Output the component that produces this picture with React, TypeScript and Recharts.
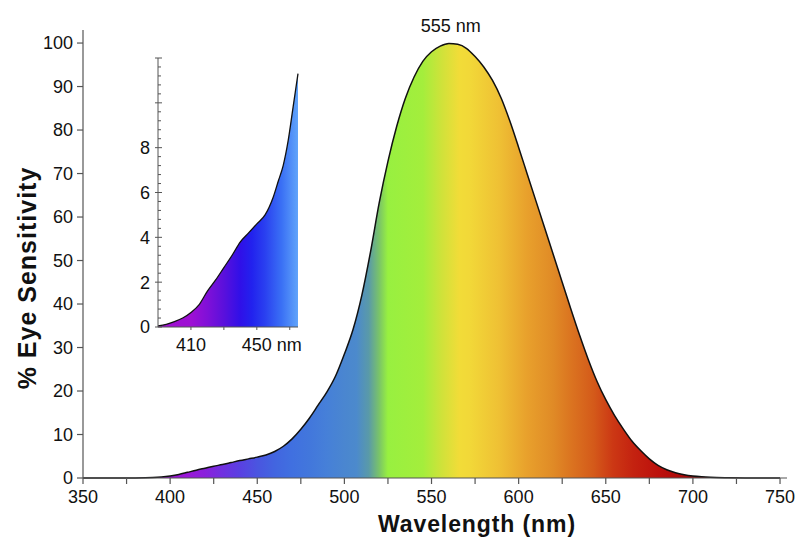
import { Area, AreaChart, Label, ReferenceDot, XAxis, YAxis } from "recharts";

// main curve: wavelength (nm) vs % eye sensitivity
const NM = [
  350, 360, 370, 380, 390, 395, 400, 405, 410, 415, 420, 425, 430, 435, 440,
  445, 450, 455, 460, 465, 470, 475, 480, 485, 490, 495, 500, 505, 510, 515,
  520, 525, 530, 535, 540, 545, 550, 555, 560, 565, 570, 575, 580, 585, 590,
  595, 600, 605, 610, 615, 620, 625, 630, 635, 640, 645, 650, 655, 660, 665,
  670, 675, 680, 685, 690, 695, 700, 705, 710, 720, 730, 740, 750,
];
const SENS = [
  0, 0, 0, 0.02, 0.1, 0.22, 0.45, 0.8, 1.3, 1.8, 2.25, 2.7, 3.1, 3.55, 4.0,
  4.4, 4.8, 5.3, 6.1, 7.3, 9.0, 11.2, 13.8, 16.8, 19.8, 23.5, 28.5, 34.2, 42.0,
  52.0, 63.3, 72.8, 80.8, 87.3, 92.2, 95.8, 98.0, 99.3, 99.9, 99.7, 98.8, 96.9,
  94.5, 91.4, 87.3, 82.0, 76.0, 69.8, 63.6, 57.4, 51.2, 45.0, 38.8, 32.8, 27.2,
  22.2, 18.0, 14.4, 11.3, 8.5, 6.3, 4.4, 2.9, 1.9, 1.2, 0.75, 0.46, 0.28, 0.16,
  0.06, 0.02, 0.01, 0,
];

// inset: zoom on the blue end
const INSET_NM = [
  390, 395, 400, 405, 410, 415, 420, 425, 430, 435, 440, 445, 450, 455, 460,
  463, 466, 469, 472, 475,
];
const INSET_SENS = [
  0.05, 0.12, 0.24, 0.4, 0.65, 1.0, 1.6, 2.1, 2.65, 3.2, 3.8, 4.2, 4.6, 5.0,
  5.8, 6.5, 7.2, 8.3, 9.8, 11.3,
];

const X_TICKS = [350, 375, 400, 425, 450, 475, 500, 525, 550, 575, 600, 625, 650, 675, 700, 725, 750];
const Y_TICKS = [0, 10, 20, 30, 40, 50, 60, 70, 80, 90, 100];
const INSET_X_TICKS = [410, 430, 450, 470];
const INSET_Y_TICKS = Array.from({ length: 31 }, (_, i) => +(i * 0.4).toFixed(1));
const INSET_Y_LABELS = [0, 2, 4, 6, 8];
const PEAK_LABEL = "555 nm";

// spectrum colours along wavelength
const SPECTRUM: [number, string][] = [
  [350, "#8a10c8"],
  [400, "#9a12d4"],
  [410, "#9a18d8"],
  [420, "#8a20dc"],
  [430, "#7030e0"],
  [440, "#5a40e2"],
  [450, "#4a55e0"],
  [460, "#4265e0"],
  [470, "#4070e0"],
  [480, "#4277dc"],
  [490, "#4680d8"],
  [500, "#4a86d0"],
  [507, "#4c8acc"],
  [514, "#5a9aa8"],
  [520, "#7ac468"],
  [525, "#98f040"],
  [545, "#a4ee3c"],
  [556, "#d0e23a"],
  [566, "#f2dc38"],
  [572, "#f2d838"],
  [589, "#efc034"],
  [605, "#e8a02c"],
  [620, "#e08a26"],
  [630, "#db7420"],
  [643, "#d45a1a"],
  [654, "#cc3814"],
  [666, "#c42210"],
  [681, "#bc100c"],
  [697, "#a80808"],
  [715, "#701010"],
  [750, "#501010"],
];
const INSET_SPECTRUM: [number, string][] = [
  [390, "#a010d0"],
  [410, "#9e10d4"],
  [420, "#8010d8"],
  [430, "#5a10dc"],
  [440, "#3010e8"],
  [447, "#2222ee"],
  [455, "#2a40f0"],
  [465, "#3a70f5"],
  [475, "#60a4fa"],
];

const mainData = NM.map((nm, i) => ({ nm, v: SENS[i] }));
const insetData = INSET_NM.map((nm, i) => ({ nm, v: INSET_SENS[i] }));

const FONT = "'Liberation Sans', Arial, Helvetica, sans-serif";
const AXIS = "#555";

function gradientStops(stops: [number, string][], lo: number, hi: number) {
  return stops.map(([nm, c]) => (
    <stop key={nm} offset={`${((nm - lo) / (hi - lo)) * 100}%`} stopColor={c} />
  ));
}

function InsetYTick(props: any) {
  const { x, y, payload } = props;
  const ax = x + 8;
  const v = payload.value;
  const major = Math.abs(v / 2 - Math.round(v / 2)) < 1e-6;
  return (
    <g>
      <line
        x1={major ? ax - 3 : ax}
        x2={major ? ax + 4 : ax + 3}
        y1={y}
        y2={y}
        stroke={AXIS}
        strokeWidth={1}
      />
      {INSET_Y_LABELS.includes(v) && (
        <text x={x} y={y} dy="0.36em" textAnchor="end" fontSize={18} fill="#111" fontFamily={FONT}>
          {v}
        </text>
      )}
    </g>
  );
}

function InsetXTick(props: any) {
  const { x, y, payload } = props;
  const v = payload.value;
  if (v === 410)
    return (
      <text x={x} y={y} dy="0.71em" textAnchor="middle" fontSize={18} fill="#111" fontFamily={FONT}>
        410
      </text>
    );
  if (v === 450)
    return (
      <text x={x - 15} y={y} dy="0.71em" textAnchor="start" fontSize={18} fill="#111" fontFamily={FONT}>
        450 nm
      </text>
    );
  return null;
}

export default function App() {
  return (
    <div style={{ position: "absolute", left: 0, top: 0, width: 800, height: 553, background: "#fff" }}>
      <AreaChart
        width={800}
        height={553}
        data={mainData}
        margin={{ top: 30, right: 13, bottom: 45, left: 23 }}
      >
        <defs>
          <linearGradient id="spectrum" x1="0" y1="0" x2="1" y2="0">
            {gradientStops(SPECTRUM, 350, 750)}
          </linearGradient>
        </defs>
        <XAxis
          dataKey="nm"
          type="number"
          domain={[350, 754]}
          ticks={X_TICKS}
          interval={0}
          tickFormatter={(v) => (v % 50 === 0 ? String(v) : "")}
          stroke={AXIS}
          strokeWidth={1.2}
          tickSize={6}
          tickMargin={6}
          tick={{ fontSize: 18, fill: "#111", fontFamily: FONT }}
          height={30}
        >
          <Label
            content={() => (
              <text
                x={477}
                y={532}
                textAnchor="middle"
                fontSize={23}
                fontWeight="bold"
                letterSpacing={0.9}
                fill="#111"
                fontFamily={FONT}
              >
                Wavelength (nm)
              </text>
            )}
          />
        </XAxis>
        <YAxis
          type="number"
          domain={[0, 103]}
          ticks={Y_TICKS}
          interval={0}
          stroke={AXIS}
          strokeWidth={1.2}
          tickSize={6}
          tickMargin={4}
          tick={{ fontSize: 18, fill: "#111", fontFamily: FONT }}
          width={60}
        >
          <Label
            content={() => (
              <text
                x={36}
                y={278}
                transform="rotate(-90 36 278)"
                textAnchor="middle"
                fontSize={25}
                fontWeight="bold"
                letterSpacing={1}
                fill="#111"
                fontFamily={FONT}
              >
                % Eye Sensitivity
              </text>
            )}
          />
        </YAxis>
        <Area
          type="monotone"
          dataKey="v"
          stroke="#111"
          strokeWidth={1.5}
          fill="url(#spectrum)"
          fillOpacity={1}
          dot={false}
          activeDot={false}
          isAnimationActive={false}
        />
        <ReferenceDot
          x={561}
          y={100}
          r={0}
          fill="none"
          stroke="none"
          label={{ value: PEAK_LABEL, position: "top", offset: 11, fontSize: 18, fill: "#111", fontFamily: FONT }}
        />
      </AreaChart>

      <div style={{ position: "absolute", left: 100, top: 40, width: 210, height: 330 }}>
        <AreaChart
          width={210}
          height={330}
          data={insetData}
          margin={{ top: 18, right: 12, bottom: 13, left: 8 }}
        >
          <defs>
            <linearGradient id="insetSpectrum" x1="0" y1="0" x2="1" y2="0">
              {gradientStops(INSET_SPECTRUM, 390, 475)}
            </linearGradient>
          </defs>
          <XAxis
            dataKey="nm"
            type="number"
            domain={[390, 475]}
            ticks={INSET_X_TICKS}
            interval={0}
            stroke={AXIS}
            tickSize={3}
            tickMargin={8}
            tick={<InsetXTick />}
            height={30}
          />
          <YAxis
            type="number"
            domain={[0, 12]}
            ticks={INSET_Y_TICKS}
            interval={0}
            stroke={AXIS}
            tickLine={false}
            tickSize={0}
            tickMargin={8}
            tick={<InsetYTick />}
            width={50}
          />
          <Area
            type="monotone"
            dataKey="v"
            stroke="#111"
            strokeWidth={1.3}
            fill="url(#insetSpectrum)"
            fillOpacity={1}
            dot={false}
            activeDot={false}
            isAnimationActive={false}
          />
        </AreaChart>
      </div>
    </div>
  );
}
